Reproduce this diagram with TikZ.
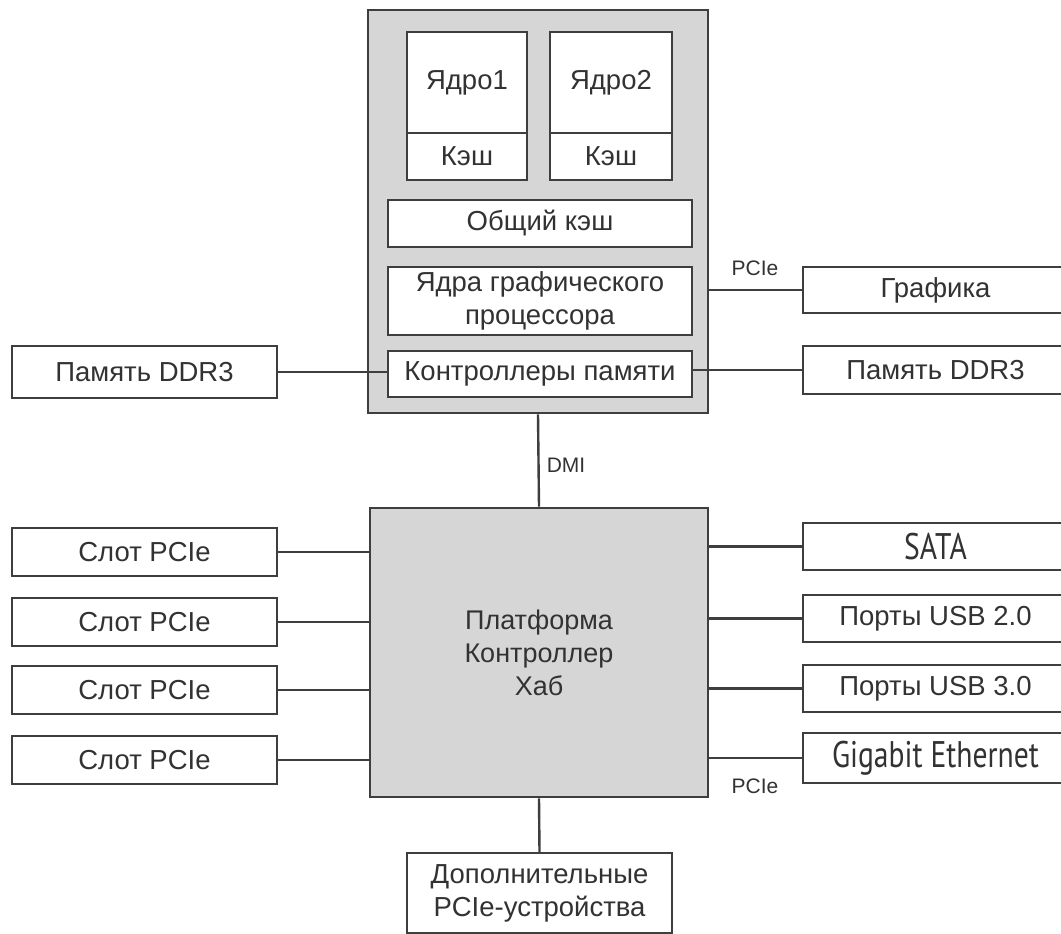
\documentclass[tikz,border=0pt]{standalone}
\usepackage{fontspec}
\setmainfont{Liberation Sans}
\newfontfamily\ptsans{PT Sans}
\usepackage{tikz}
\usepackage{xcolor}

\definecolor{chipgray}{RGB}{214,214,214}
\definecolor{inkline}{RGB}{62,62,62}
\definecolor{inktext}{RGB}{50,50,50}

\tikzset{
  blk/.style={draw=inkline, line width=2.4pt, fill=white, text=inktext, inner sep=0pt,
    align=center, font=\fontsize{27.5}{33}\selectfont},
  chip/.style={draw=inkline, line width=2.8pt, fill=chipgray, text=inktext, inner sep=0pt,
    align=center, font=\fontsize{27}{33}\selectfont},
  wire/.style={draw=inkline, line width=2.4pt},
  lbl/.style={text=inktext, inner sep=0pt, font=\fontsize{21}{24}\selectfont}
}

\begin{document}
\begin{tikzpicture}[x=1pt,y=-1pt]
\useasboundingbox (0,0) rectangle (1061,934);

% processor
\node[chip, minimum width=340pt, minimum height=403pt] (cpu) at (538,211.5) {};

\node[blk, minimum width=120pt, minimum height=101pt] (core1) at (467,82.5) {Ядро1};
\node[blk, minimum width=120pt, minimum height=47pt] (cache1) at (467,156.5) {Кэш};
\node[blk, minimum width=122pt, minimum height=101pt] (core2) at (611,82.5) {Ядро2};
\node[blk, minimum width=122pt, minimum height=47pt] (cache2) at (611,156.5) {Кэш};

\node[blk, minimum width=304pt, minimum height=47pt] (shared) at (540,223.5) {Общий кэш};
\node[blk, minimum width=304pt, minimum height=68pt] (gpu) at (540,301) {Ядра графического\\процессора};
\node[blk, minimum width=304pt, minimum height=46pt] (memctl) at (540,374) {Контроллеры памяти};

\node[blk, minimum width=265pt, minimum height=52pt] (ddrL) at (144.5,372) {Память DDR3};
\node[blk, minimum width=265pt, minimum height=46pt] (gfx) at (935.5,290) {Графика};
\node[blk, minimum width=265pt, minimum height=48pt] (ddrR) at (935.5,370) {Память DDR3};

% platform controller hub
\node[chip, minimum width=338pt, minimum height=289pt] (pch) at (539,652.5) {Платформа\\Контроллер\\Хаб};

\node[blk, minimum width=265pt, minimum height=48pt] (slot1) at (144.5,552) {Слот PCIe};
\node[blk, minimum width=265pt, minimum height=48pt] (slot2) at (144.5,622) {Слот PCIe};
\node[blk, minimum width=265pt, minimum height=48pt] (slot3) at (144.5,690) {Слот PCIe};
\node[blk, minimum width=265pt, minimum height=48pt] (slot4) at (144.5,760) {Слот PCIe};

\node[blk, minimum width=265pt, minimum height=47pt] (sata) at (935.5,546.5) {\ptsans\fontsize{37}{40}\selectfont\scalebox{0.8}[1]{SATA}};
\node[blk, minimum width=265pt, minimum height=47pt] (usb2) at (935.5,618.5) {Порты USB 2.0};
\node[blk, minimum width=265pt, minimum height=47pt] (usb3) at (935.5,688.5) {Порты USB 3.0};
\node[blk, minimum width=265pt, minimum height=50pt] (gbe) at (935.5,758) {\ptsans\fontsize{37}{40}\selectfont\scalebox{0.8}[1]{Gigabit Ethernet}};

\node[blk, minimum width=265pt, minimum height=80pt] (extra) at (539.5,893) {Дополнительные\\PCIe-устройства};

% links
\draw[wire] (ddrL.east) -- (ddrL.east -| memctl.west);
\draw[wire] (ddrR.west -| memctl.east) -- (ddrR.west);
\draw[wire] (gfx.west -| cpu.east) -- (gfx.west);
\node[lbl] (pcieG) at (755,268) {PCIe};

\draw[wire] (cpu.south) -- (pch.north);
\node[lbl] (dmi) at (566,465) {DMI};

\draw[wire] (slot1.east) -- (slot1.east -| pch.west);
\draw[wire] (slot2.east) -- (slot2.east -| pch.west);
\draw[wire] (slot3.east) -- (slot3.east -| pch.west);
\draw[wire] (slot4.east) -- (slot4.east -| pch.west);

\draw[wire] (sata.west -| pch.east) -- (sata.west);
\draw[wire] (usb2.west -| pch.east) -- (usb2.west);
\draw[wire] (usb3.west -| pch.east) -- (usb3.west);
\draw[wire] (gbe.west -| pch.east) -- (gbe.west);
\node[lbl] (pcieE) at (755,786) {PCIe};

\draw[wire] (pch.south) -- (extra.north);

\end{tikzpicture}
\end{document}
